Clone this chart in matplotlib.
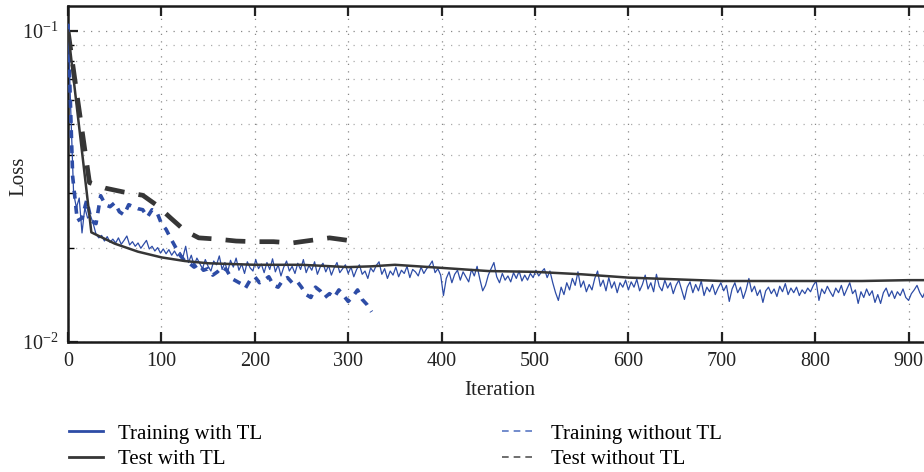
import numpy as np
import matplotlib
matplotlib.use("Agg")
import matplotlib.pyplot as plt
from matplotlib.lines import Line2D
from matplotlib.ticker import LogLocator, MultipleLocator, NullFormatter

plt.rcParams['font.family'] = ['Liberation Serif', 'DejaVu Serif']
plt.rcParams['mathtext.fontset'] = 'custom'
plt.rcParams['mathtext.rm'] = 'Liberation Serif'
plt.rcParams['mathtext.it'] = 'Liberation Serif:italic'

# ---------------- data ----------------
train_tl_iter = list(range(0, 921, 3))
train_tl_loss = [
    0.105, 0.055, 0.030, 0.027, 0.029, 0.0224, 0.027, 0.025, 0.0255, 0.0240,
    0.0222, 0.0216, 0.0220, 0.0211, 0.0218, 0.0209, 0.0214, 0.0208, 0.0216, 0.0206,
    0.0212, 0.0219, 0.0205, 0.0210, 0.0203, 0.0208, 0.0200, 0.0206, 0.0212, 0.0199,
    0.0203, 0.0196, 0.0201, 0.0193, 0.0199, 0.0192, 0.0198, 0.0190, 0.0196, 0.0189,
    0.0194, 0.0187, 0.0203, 0.0180, 0.0190, 0.0176, 0.0186, 0.0179, 0.0172, 0.0184,
    0.0175, 0.0169, 0.0182, 0.0177, 0.0189, 0.0171, 0.0180, 0.0168, 0.0183, 0.0174,
    0.0186, 0.0170, 0.0178, 0.0166, 0.0181, 0.0173, 0.0169, 0.0184, 0.0172, 0.0178,
    0.0167, 0.0180, 0.0171, 0.0185, 0.0168, 0.0177, 0.0163, 0.0174, 0.0182, 0.0169,
    0.0175, 0.0166, 0.0179, 0.0171, 0.0184, 0.0167, 0.0176, 0.0170, 0.0181, 0.0165,
    0.0174, 0.0179, 0.0168, 0.0176, 0.0164, 0.0173, 0.0180, 0.0167, 0.0172, 0.0177,
    0.0166, 0.0174, 0.0162, 0.0171, 0.0177, 0.0165, 0.0169, 0.0160, 0.0173, 0.0168,
    0.0176, 0.0181, 0.0165, 0.0172, 0.0160, 0.0169, 0.0164, 0.0174, 0.0162, 0.0170,
    0.0166, 0.0175, 0.0161, 0.0171, 0.0168, 0.0163, 0.0174, 0.0166, 0.0172, 0.0176,
    0.0182, 0.0167, 0.0172, 0.0164, 0.0141, 0.0160, 0.0168, 0.0155, 0.0165, 0.0170,
    0.0158, 0.0168, 0.0162, 0.0156, 0.0171, 0.0163, 0.0175, 0.0159, 0.0146, 0.0152,
    0.0164, 0.0172, 0.0180, 0.0162, 0.0155, 0.0166, 0.0158, 0.0163, 0.0156, 0.0167,
    0.0160, 0.0169, 0.0157, 0.0164, 0.0158, 0.0166, 0.0161, 0.0170, 0.0163, 0.0168,
    0.0172, 0.0161, 0.0169, 0.0155, 0.0144, 0.0136, 0.0150, 0.0142, 0.0155, 0.0147,
    0.0160, 0.0152, 0.0168, 0.0150, 0.0157, 0.0145, 0.0153, 0.0147, 0.0160, 0.0169,
    0.0151, 0.0158, 0.0146, 0.0161, 0.0149, 0.0156, 0.0144, 0.0155, 0.0150, 0.0158,
    0.0147, 0.0156, 0.0150, 0.0159, 0.0146, 0.0153, 0.0164, 0.0148, 0.0155, 0.0145,
    0.0165, 0.0151, 0.0146, 0.0158, 0.0149, 0.0155, 0.0143, 0.0152, 0.0158, 0.0147,
    0.0137, 0.0150, 0.0156, 0.0144, 0.0153, 0.0146, 0.0157, 0.0141, 0.0150, 0.0145,
    0.0153, 0.0142, 0.0149, 0.0155, 0.0146, 0.0152, 0.0135, 0.0148, 0.0155, 0.0144,
    0.0150, 0.0138, 0.0147, 0.0160, 0.0145, 0.0151, 0.0141, 0.0147, 0.0134, 0.0146,
    0.0150, 0.0143, 0.0148, 0.0140, 0.0151, 0.0145, 0.0154, 0.0142, 0.0149, 0.0144,
    0.0150, 0.0141, 0.0147, 0.0143, 0.0149, 0.0145, 0.0152, 0.0157, 0.0136, 0.0148,
    0.0143, 0.0151, 0.0145, 0.0140, 0.0149, 0.0144, 0.0152, 0.0141, 0.0148, 0.0155,
    0.0143, 0.0147, 0.0133, 0.0145, 0.0139, 0.0148, 0.0141, 0.0146, 0.0134, 0.0142,
    0.0133, 0.0144, 0.0149, 0.0140, 0.0146, 0.0138, 0.0145, 0.0141, 0.0148, 0.0139,
    0.0136, 0.0143, 0.0147, 0.0152, 0.0144, 0.0139, 0.0146,
]

test_tl_iter = [0, 25, 50, 75, 100, 125, 150, 200, 250, 300, 325, 350, 400, 450,
                500, 550, 600, 650, 700, 750, 800, 850, 900, 950]
test_tl_loss = [0.100, 0.0225, 0.0207, 0.0195, 0.0187, 0.0182, 0.0179, 0.0177,
                0.0177, 0.0174, 0.0175, 0.0177, 0.0173, 0.0169, 0.0168, 0.0165,
                0.0161, 0.0159, 0.0157, 0.0157, 0.0157, 0.0157, 0.0158, 0.0158]

train_notl_iter = list(range(0, 330, 5))
train_notl_loss = [
    0.105, 0.034, 0.0245, 0.0250, 0.0285, 0.0245, 0.0240, 0.0295, 0.0276, 0.0272,
    0.0280, 0.0262, 0.0256, 0.0276, 0.0272, 0.0268, 0.0266, 0.0252, 0.0266, 0.0262,
    0.0240, 0.0230, 0.0215, 0.0202, 0.0190, 0.0182, 0.0179, 0.0174, 0.0178, 0.0170,
    0.0172, 0.0164, 0.0168, 0.0174, 0.0170, 0.0160, 0.0157, 0.0154, 0.0149, 0.0158,
    0.0162, 0.0155, 0.0158, 0.0162, 0.0152, 0.0150, 0.0158, 0.0161, 0.0155, 0.0157,
    0.0150, 0.0142, 0.0139, 0.0150, 0.0146, 0.0139, 0.0143, 0.0139, 0.0147, 0.0141,
    0.0135, 0.0140, 0.0147, 0.0137, 0.0132, 0.0125,
]

test_notl_iter = [0, 10, 23, 40, 60, 80, 95, 110, 125, 140, 160, 180, 200, 220,
                  240, 260, 280, 300, 310]
test_notl_loss = [0.100, 0.061, 0.0325, 0.0312, 0.0303, 0.0296, 0.0275, 0.0250,
                  0.0228, 0.0216, 0.0214, 0.0211, 0.0210, 0.0210, 0.0208, 0.0212,
                  0.0216, 0.0212, 0.0209]

labels = ["Training with TL", "Test with TL", "Training without TL", "Test without TL"]

# ---------------- figure ----------------
W, H = 924, 472
fig = plt.figure(figsize=(W / 100, H / 100), dpi=100)
x0, y_top, y_bot = 68, 6, 342
px_per_iter = 0.934
xmax = 1000
ax_w_px = xmax * px_per_iter
ax = fig.add_axes([x0 / W, (H - y_bot) / H, ax_w_px / W, (y_bot - y_top) / H])

blue = '#2d4ca6'
dark = '#363636'

ax.plot(test_notl_iter, test_notl_loss, color=dark, lw=3.4, ls=(0, (4.2, 3.0)),
        solid_capstyle='butt', dash_capstyle='butt', zorder=3)
ax.plot(train_notl_iter, train_notl_loss, color=blue, lw=2.6, ls=(0, (2.2, 2.0)),
        dash_capstyle='butt', zorder=4)
ax.plot(train_tl_iter, train_tl_loss, color=blue, lw=0.9, zorder=5)
ax.plot(test_tl_iter, test_tl_loss, color=dark, lw=1.8, zorder=6)

ax.set_yscale('log')
ax.set_ylim(0.01, 0.12)
ax.set_xlim(0, xmax)
ax.xaxis.set_major_locator(MultipleLocator(100))
ax.yaxis.set_major_locator(LogLocator(base=10, numticks=10))
ax.yaxis.set_minor_locator(LogLocator(base=10, subs=np.arange(2, 10), numticks=20))
ax.yaxis.set_minor_formatter(NullFormatter())

ax.grid(True, which='major', axis='both', color='#888888', ls=(0, (1, 5)), lw=0.9)
ax.grid(True, which='minor', axis='y', color='#aaaaaa', ls=(0, (1, 5)), lw=0.9)

ax.tick_params(which='major', direction='in', length=7, width=1.6, top=True,
               right=False, labelsize=14.5, colors='#222222', pad=7)
ax.tick_params(which='minor', direction='in', length=4, width=1.0, left=True,
               right=False)
for s in ['left', 'bottom', 'top']:
    ax.spines[s].set_linewidth(1.8)
    ax.spines[s].set_color('#1a1a1a')
ax.spines['right'].set_visible(False)

ax.set_xlabel('Iteration', fontsize=15, color='#222222')
ax.set_ylabel('Loss', fontsize=15, color='#222222')
ax.xaxis.set_label_coords((500 - x0) / ax_w_px, -0.115)
ax.yaxis.set_label_coords((28 - x0) / ax_w_px, (y_bot - 176) / (y_bot - y_top))

handles = [
    Line2D([], [], color=blue, lw=2.0),
    Line2D([], [], color=dark, lw=2.0),
    Line2D([], [], color='#5a78c4', lw=1.2, ls=(0, (4, 3))),
    Line2D([], [], color='#555555', lw=1.2, ls=(0, (4, 3))),
]
fig.legend(handles, labels, loc='upper left', bbox_to_anchor=(69 / W, 1 - 424 / H),
           ncol=2, frameon=False, fontsize=15, handlelength=1.65, handletextpad=0.7,
           columnspacing=11.5, labelspacing=0.3, borderpad=0, borderaxespad=0)

fig.savefig('out.png', dpi=100)
